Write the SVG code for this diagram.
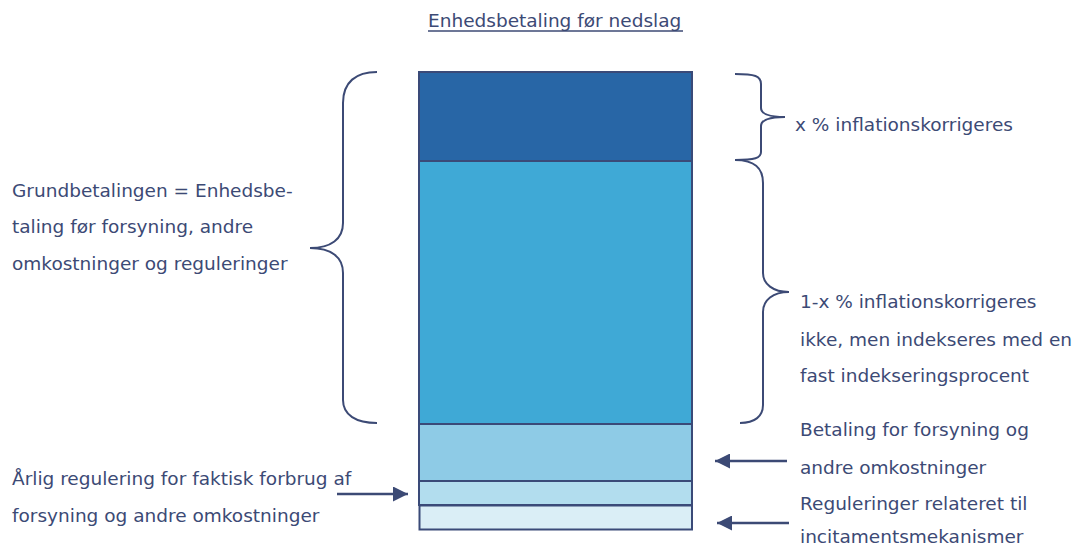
<svg xmlns="http://www.w3.org/2000/svg" width="1079" height="547" viewBox="0 0 1079 547">
<defs>
<style>
text{font-family:"DejaVu Sans","Verdana",sans-serif;font-size:18.5px;fill:#3C4A75}
.band{stroke:#3A4A78;stroke-width:2}
.brace{fill:none;stroke:#3C4A75;stroke-width:2}
.arr{stroke:#3C4A75;stroke-width:2.5;fill:none;marker-end:url(#ah)}
</style>
<marker id="ah" viewBox="0 0 15 15" refX="15" refY="7.5" markerUnits="userSpaceOnUse" markerWidth="15" markerHeight="15" orient="auto">
<path d="M0,0 L15,7.5 L0,15 Z" fill="#3C4A75"/>
</marker>
</defs>
<rect width="1079" height="547" fill="#ffffff"/>
<g id="title">
<text x="428" y="27">Enhedsbetaling før nedslag</text>
<line x1="428" y1="31" x2="683" y2="31" stroke="#3C4A75" stroke-width="1.5"/>
</g>
<g id="bar">
<rect id="band1" class="band" x="419" y="72" width="273" height="89" fill="#2866A6"/>
<rect id="band2" class="band" x="419" y="161" width="273" height="263" fill="#3FA9D6"/>
<rect id="band3" class="band" x="419" y="424" width="273" height="57" fill="#8ECBE6"/>
<rect id="band4" class="band" x="419" y="481" width="273" height="24" fill="#B2DDEE"/>
<rect id="band5" class="band" x="419.5" y="505.5" width="272.5" height="24" fill="#DAEEF6"/>
</g>
<g id="braces">
<path id="brace-left" class="brace" d="M377,72 C356,72 343,82 343,103 L343,223 C343,239 331,248 310,248 C331,248 343,257 343,273 L343,400 C343,415 356,423 377,423"/>
<path id="brace-top" class="brace" d="M735,74 C755,74 761,76 761,84 L761,108 C761,114 770,117 785,117 C770,117 761,120 761,126 L761,152 C761,158 755,160 735,160"/>
<path id="brace-mid" class="brace" d="M735,160 C755,160 763,168 763,183 L763,273 C763,284 773,292 789,292 C773,292 763,300 763,312 L763,405 C763,416 755,423 740,423"/>
</g>
<g id="connectors">
<line class="arr" x1="337" y1="494" x2="408" y2="494"/>
<line class="arr" x1="787" y1="461" x2="715" y2="461"/>
<line class="arr" x1="789" y1="523" x2="717" y2="523"/>
</g>
<g id="label-grund">
<text x="12" y="197">Grundbetalingen = Enhedsbe-</text>
<text x="12" y="233">taling før forsyning, andre</text>
<text x="12" y="270">omkostninger og reguleringer</text>
</g>
<g id="label-x">
<text x="795" y="131">x % inflationskorrigeres</text>
</g>
<g id="label-1x">
<text x="800" y="308">1-x % inflationskorrigeres</text>
<text x="800" y="346">ikke, men indekseres med en</text>
<text x="800" y="382">fast indekseringsprocent</text>
</g>
<g id="label-betaling">
<text x="800" y="436">Betaling for forsyning og</text>
<text x="800" y="474">andre omkostninger</text>
</g>
<g id="label-reg">
<text x="800" y="510">Reguleringer relateret til</text>
<text x="800" y="543">incitamentsmekanismer</text>
</g>
<g id="label-aarlig">
<text x="12" y="485">Årlig regulering for faktisk forbrug af</text>
<text x="12" y="522">forsyning og andre omkostninger</text>
</g>
</svg>
